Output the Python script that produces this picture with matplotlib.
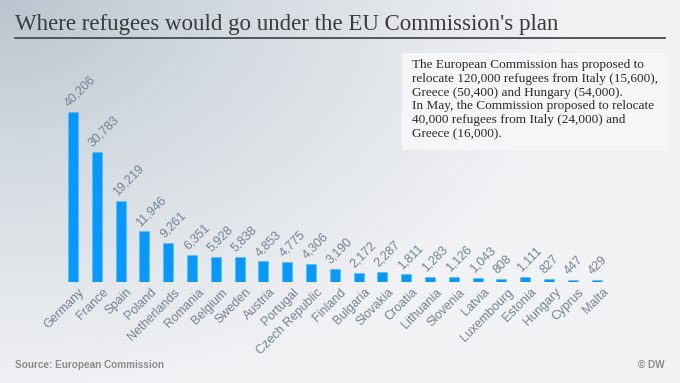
import numpy as np
import matplotlib
matplotlib.use('Agg')
import matplotlib.pyplot as plt
from matplotlib.patches import Rectangle

# data
countries = ['Germany', 'France', 'Spain', 'Poland', 'Netherlands', 'Romania',
             'Belgium', 'Sweden', 'Austria', 'Portugal', 'Czech Republic',
             'Finland', 'Bulgaria', 'Slovakia', 'Croatia', 'Lithuania',
             'Slovenia', 'Latvia', 'Luxembourg', 'Estonia', 'Hungary',
             'Cyprus', 'Malta']
refugees = [40206, 30783, 19219, 11946, 9261, 6351, 5928, 5838, 4853, 4775,
            4306, 3190, 2172, 2287, 1811, 1283, 1126, 1043, 808, 1111, 827,
            447, 429]

title = "Where refugees would go under the EU Commission's plan"
note = ("The European Commission has proposed to\n"
        "relocate 120,000 refugees from Italy (15,600),\n"
        "Greece (50,400) and Hungary (54,000).\n"
        "In May, the Commission proposed to relocate\n"
        "40,000 refugees from Italy (24,000) and\n"
        "Greece (16,000).")
source = 'Source: European Commission'

W, H = 680, 383
fig = plt.figure(figsize=(W / 100, H / 100), dpi=100)

# background gradient, darker in the top left corner
bg = fig.add_axes([0, 0, 1, 1], zorder=-10)
yy, xx = np.mgrid[0:H, 0:W]
d = np.sqrt((xx * 0.9) ** 2 + (yy * 1.3) ** 2)
t = np.clip(d / 520, 0, 1) ** 0.8
c0 = np.array([0.72, 0.765, 0.805])
c1 = np.array([0.945, 0.950, 0.958])
img = c0[None, None, :] * (1 - t[..., None]) + c1[None, None, :] * t[..., None]
bg.imshow(img, aspect='auto', extent=(0, W, H, 0))
bg.set_xlim(0, W)
bg.set_ylim(H, 0)
bg.axis('off')

# title and underline
bg.text(15, 30, title, fontsize=16.5, family='Liberation Serif', color='#3a3a3a',
        ha='left', va='baseline')
bg.plot([15, 665], [38, 38], color='#4a4a4a', lw=1.3)

# note box
bg.add_patch(Rectangle((402, 53), 265, 97, facecolor='#f6f7f8', edgecolor='none', alpha=0.95))
bg.text(412, 59, note, fontsize=9.5, family='Liberation Serif', color='#2a2a2a',
        ha='left', va='top', linespacing=1.2)

# footer
bg.text(15, 365, source, fontsize=7.2, fontweight='bold', family='Liberation Sans',
        color='#8c8c8c', ha='left', va='center')
bg.text(665, 365, '\u00a9 DW', fontsize=7.2, fontweight='bold', family='Liberation Sans',
        color='#8c8c8c', ha='right', va='center')

# bar chart
ax = fig.add_axes([40 / W, (H - 282) / H, 600 / W, 200 / H])
ax.patch.set_alpha(0)
x = np.arange(len(countries))
ax.bar(x, refugees, width=0.42, color='#0599fb', edgecolor='#5cbcff', linewidth=0.5)
ax.set_xlim(-1.387, -1.387 + 600 / 23.8)
ax.set_ylim(0, 40206 * 200 / 170)
ax.axis('off')

lab_color = '#748293'
for i, v in enumerate(refugees):
    ax.annotate(f'{v:,}', (i - 0.08, v), xytext=(0, 2), textcoords='offset points',
                rotation=45, rotation_mode='anchor', ha='left', va='bottom',
                fontsize=9, family='Liberation Sans', color=lab_color)
    ax.annotate(countries[i], (i, 0), xytext=(4, -3), textcoords='offset points',
                rotation=45, rotation_mode='anchor', ha='right', va='top',
                fontsize=9, family='Liberation Sans', color=lab_color,
                annotation_clip=False)

fig.savefig('out.png', dpi=100)
